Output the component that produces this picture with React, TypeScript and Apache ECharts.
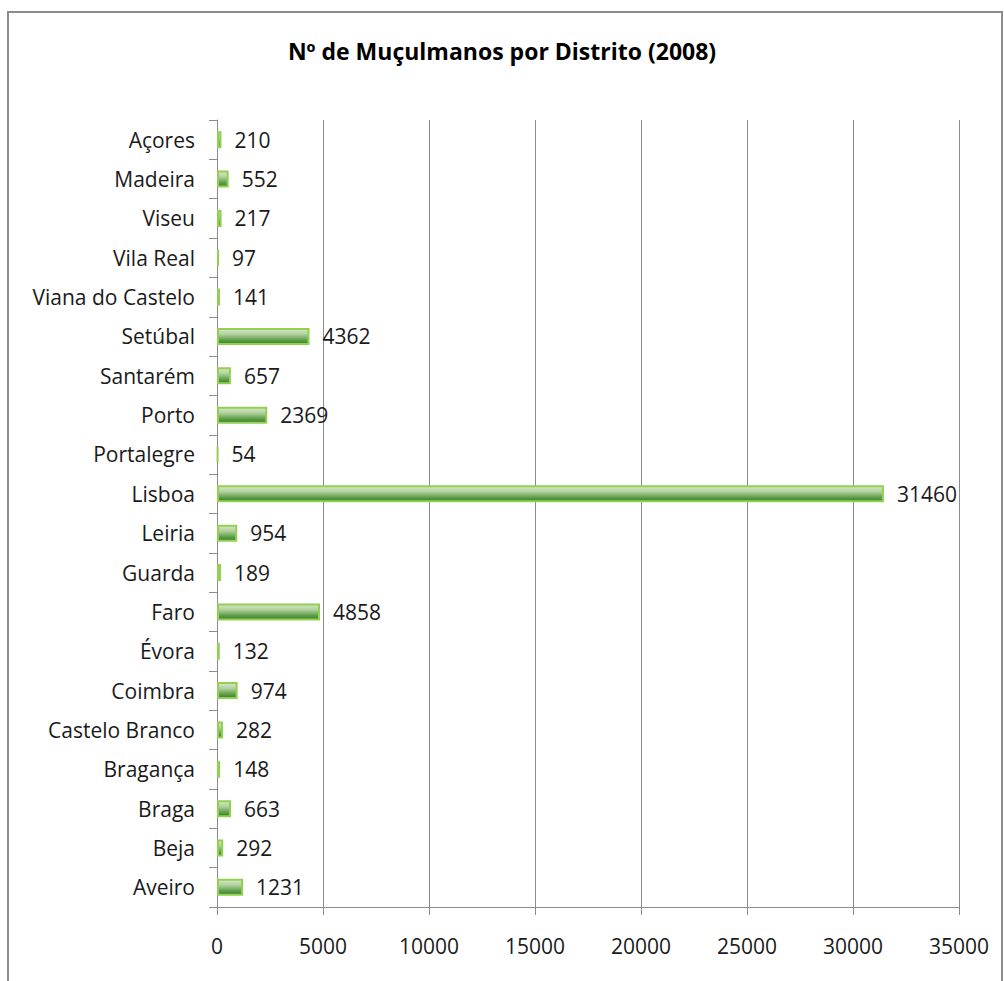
import React, { useEffect, useRef } from "react";
import * as echarts from "echarts";

const titleText = "Nº de Muçulmanos por Distrito (2008)";
const districts = [
  "Açores", "Madeira", "Viseu", "Vila Real", "Viana do Castelo", "Setúbal",
  "Santarém", "Porto", "Portalegre", "Lisboa", "Leiria", "Guarda", "Faro",
  "Évora", "Coimbra", "Castelo Branco", "Bragança", "Braga", "Beja", "Aveiro",
];
const muslims = [
  210, 552, 217, 97, 141, 4362, 657, 2369, 54, 31460, 954, 189, 4858, 132,
  974, 282, 148, 663, 292, 1231,
];
const xMin = 0;
const xMax = 35000;
const xStep = 5000;

const FONT = "Open Sans";

export default function App() {
  const ref = useRef<HTMLDivElement>(null);
  useEffect(() => {
    if (!ref.current) return;
    const chart = echarts.init(ref.current, undefined, { renderer: "svg" });
    chart.setOption({
      animation: false,
      backgroundColor: "#ffffff",
      title: {
        text: titleText,
        left: "center",
        top: 34,
        textStyle: { fontFamily: FONT, fontSize: 23, fontWeight: "bold", color: "#000" },
      },
      graphic: [
        {
          type: "rect",
          shape: { x: 8, y: 12, width: 994, height: 1000 },
          style: { fill: "none", stroke: "#8c8c8c", lineWidth: 2 },
          silent: true,
        },
      ],
      grid: { left: 217, right: 45, top: 120, bottom: 74, containLabel: false },
      xAxis: {
        type: "value",
        min: xMin,
        max: xMax,
        interval: xStep,
        axisLine: { show: true, lineStyle: { color: "#8c8c8c", width: 1 } },
        axisTick: { show: true, length: 8, lineStyle: { color: "#8c8c8c" } },
        splitLine: { show: true, lineStyle: { color: "#8c8c8c", width: 1 } },
        axisLabel: {
          fontFamily: FONT,
          fontSize: 21,
          color: "#1a1a1a",
          margin: 28,
          formatter: (v: number) => String(v),
        },
      },
      yAxis: {
        type: "category",
        data: districts,
        inverse: true,
        axisLine: { show: true, lineStyle: { color: "#8c8c8c", width: 1 } },
        axisTick: { show: true, length: 8, alignWithLabel: false, lineStyle: { color: "#8c8c8c" } },
        axisLabel: { fontFamily: FONT, fontSize: 21, color: "#1a1a1a", margin: 22 },
      },
      series: [
        {
          type: "bar",
          data: muslims,
          barWidth: 17,
          itemStyle: {
            color: new echarts.graphic.LinearGradient(0, 0, 0, 1, [
              { offset: 0, color: "#d6e7c8" },
              { offset: 0.35, color: "#b3d19f" },
              { offset: 0.75, color: "#5c9d48" },
              { offset: 1, color: "#3b7d2c" },
            ]),
            borderColor: "#92d050",
            borderWidth: 2,
          },
          label: {
            show: true,
            position: "right",
            distance: 13,
            fontFamily: FONT,
            fontSize: 21,
            color: "#1a1a1a",
          },
        },
      ],
    });
    return () => chart.dispose();
  }, []);
  return (
    <div
      ref={ref}
      style={{ position: "fixed", left: 0, top: 0, width: 1004, height: 981 }}
    />
  );
}
